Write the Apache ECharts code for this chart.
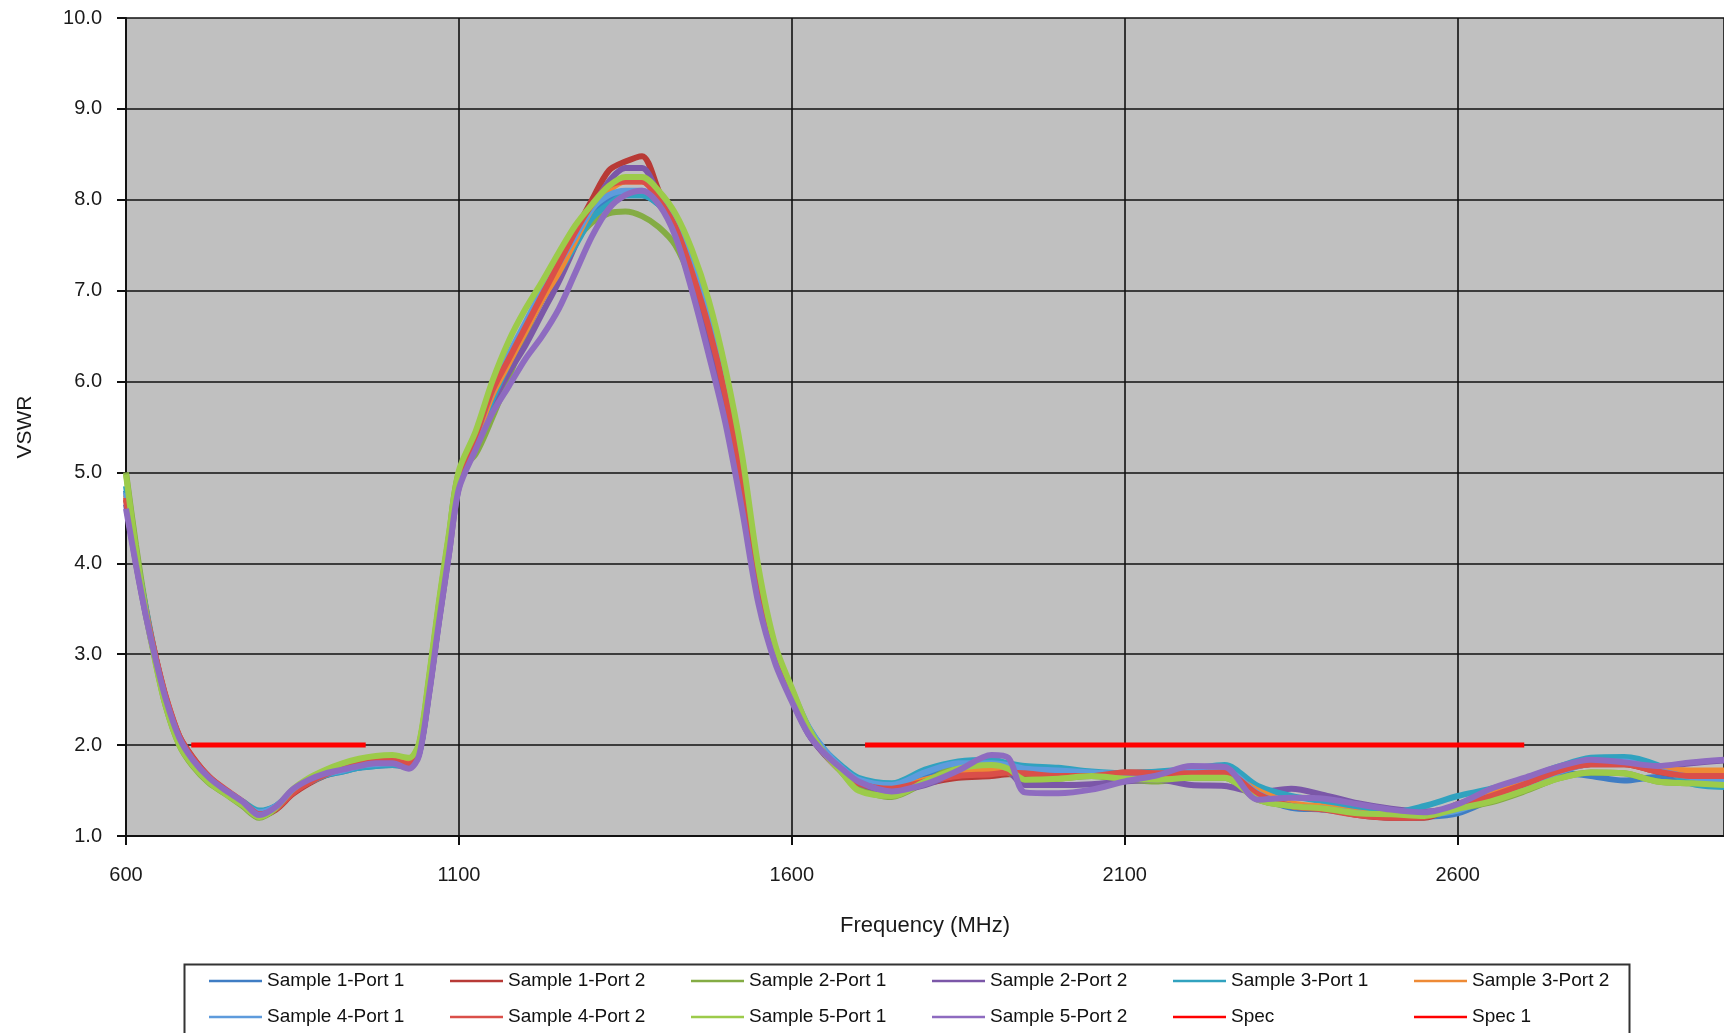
<!DOCTYPE html>
<html>
<head>
<meta charset="utf-8">
<script src="https://cdn.jsdelivr.net/npm/echarts@6/dist/echarts.min.js"></script>
<style>
html,body{margin:0;padding:0;background:#fff;}
#chart{width:1724px;height:1033px;}
</style>
</head>
<body>
<div id="chart"></div>
<script>
// Frequencies (MHz)
const freq = [600, 615, 630, 645, 660, 680, 700, 725, 750, 775, 800, 825, 850, 875, 900, 925, 950, 975, 1000, 1025,
  1040, 1055, 1070, 1085, 1100, 1125, 1150, 1175, 1200, 1225, 1250, 1275, 1300, 1325, 1350, 1375, 1400, 1425, 1450, 1475,
  1500, 1525, 1550, 1575, 1600, 1625, 1650, 1675, 1700, 1750, 1800, 1850, 1900, 1925, 1950, 2000, 2050, 2100, 2150, 2200,
  2250, 2300, 2350, 2400, 2450, 2500, 2550, 2600, 2650, 2700, 2750, 2800, 2850, 2900, 2950, 3000];

const sample1Port1 = [4.8, 4.1, 3.5, 2.95, 2.5, 2.05, 1.8, 1.6, 1.47, 1.36, 1.27, 1.33, 1.49, 1.6, 1.67, 1.71, 1.75, 1.77, 1.78, 1.76, 1.9, 2.58, 3.38, 4.15, 4.88,
  5.35, 5.85, 6.25, 6.6, 6.95, 7.25, 7.55, 7.85, 8.0, 8.05, 8.05, 7.95, 7.75, 7.35, 6.75, 6.0, 5.05,
  3.85, 3.05, 2.58, 2.17, 1.92, 1.74, 1.6,
  1.55, 1.68, 1.78, 1.8, 1.78, 1.74, 1.72, 1.68, 1.68, 1.7, 1.7, 1.7, 1.45, 1.31, 1.29, 1.24, 1.2, 1.21, 1.25, 1.4, 1.55, 1.7, 1.66, 1.61, 1.65, 1.63, 1.58];
const sample1Port2 = [4.7, 4.02, 3.45, 2.95, 2.52, 2.1, 1.87, 1.65, 1.5, 1.37, 1.22, 1.29, 1.46, 1.58, 1.67, 1.73, 1.79, 1.83, 1.84, 1.79, 1.93, 2.6, 3.4, 4.15, 4.9,
  5.35, 5.85, 6.2, 6.55, 6.9, 7.25, 7.65, 8.0, 8.32, 8.42, 8.48, 8.1, 7.7, 7.2, 6.55, 5.8, 4.85,
  3.7, 2.97, 2.53, 2.13, 1.89, 1.71, 1.57,
  1.52, 1.58, 1.64, 1.66, 1.68, 1.68, 1.66, 1.66, 1.7, 1.7, 1.69, 1.69, 1.47, 1.33, 1.3, 1.23, 1.2, 1.2, 1.35, 1.44, 1.57, 1.71, 1.79, 1.79, 1.71, 1.66, 1.66];
const sample2Port1 = [5.0, 4.2, 3.5, 2.9, 2.42, 2.0, 1.77, 1.58, 1.46, 1.33, 1.2, 1.3, 1.5, 1.63, 1.72, 1.79, 1.84, 1.87, 1.88, 1.85, 2.0, 2.72, 3.55, 4.3, 5.0,
  5.2, 5.6, 6.05, 6.5, 6.95, 7.3, 7.55, 7.75, 7.85, 7.87, 7.82, 7.7, 7.5, 7.1, 6.55, 5.85, 4.95,
  3.82, 3.04, 2.58, 2.17, 1.9, 1.7, 1.52,
  1.43, 1.59, 1.76, 1.76, 1.7, 1.6, 1.63, 1.66, 1.62, 1.6, 1.64, 1.64, 1.4, 1.33, 1.3, 1.25, 1.24, 1.22, 1.3, 1.37, 1.49, 1.63, 1.7, 1.69, 1.6, 1.58, 1.56];
const sample2Port2 = [4.65, 4.0, 3.42, 2.92, 2.5, 2.08, 1.84, 1.63, 1.49, 1.37, 1.23, 1.32, 1.5, 1.61, 1.68, 1.73, 1.77, 1.8, 1.81, 1.76, 1.9, 2.56, 3.36, 4.1, 4.84,
  5.3, 5.75, 6.1, 6.4, 6.75, 7.1, 7.5, 7.9, 8.2, 8.35, 8.35, 8.05, 7.7, 7.15, 6.45, 5.65, 4.7,
  3.6, 2.93, 2.5, 2.12, 1.89, 1.72, 1.58,
  1.5, 1.56, 1.7, 1.82, 1.72, 1.56, 1.56, 1.57, 1.6, 1.62, 1.56, 1.55, 1.48, 1.52, 1.45, 1.36, 1.3, 1.27, 1.33, 1.5, 1.62, 1.74, 1.82, 1.8, 1.76, 1.8, 1.83];
const sample3Port1 = [4.85, 4.1, 3.48, 2.94, 2.5, 2.06, 1.83, 1.62, 1.49, 1.38, 1.28, 1.33, 1.49, 1.59, 1.67, 1.71, 1.75, 1.77, 1.78, 1.77, 1.91, 2.6, 3.4, 4.16, 4.9,
  5.35, 5.8, 6.2, 6.55, 6.9, 7.2, 7.5, 7.8, 7.95, 8.05, 8.05, 7.95, 7.75, 7.3, 6.7, 5.95, 5.0,
  3.83, 3.05, 2.6, 2.2, 1.94, 1.77, 1.64,
  1.58, 1.73, 1.82, 1.84, 1.8, 1.77, 1.75, 1.71, 1.69, 1.71, 1.74, 1.78, 1.55, 1.44, 1.38, 1.3, 1.26, 1.33, 1.44, 1.52, 1.63, 1.76, 1.86, 1.87, 1.78, 1.58, 1.54];
const sample3Port2 = [4.75, 4.05, 3.46, 2.94, 2.5, 2.07, 1.85, 1.64, 1.5, 1.37, 1.25, 1.31, 1.48, 1.6, 1.69, 1.75, 1.8, 1.83, 1.84, 1.8, 1.93, 2.6, 3.4, 4.15, 4.88,
  5.35, 5.85, 6.2, 6.55, 6.9, 7.2, 7.55, 7.9, 8.1, 8.2, 8.2, 8.05, 7.75, 7.3, 6.65, 5.9, 4.95,
  3.78, 3.01, 2.56, 2.16, 1.91, 1.73, 1.6,
  1.53, 1.62, 1.7, 1.72, 1.72, 1.7, 1.67, 1.67, 1.68, 1.68, 1.69, 1.68, 1.5, 1.36, 1.32, 1.26, 1.22, 1.22, 1.33, 1.46, 1.58, 1.72, 1.82, 1.8, 1.74, 1.72, 1.72];
const sample4Port1 = [4.78, 4.08, 3.47, 2.93, 2.49, 2.05, 1.81, 1.61, 1.47, 1.36, 1.26, 1.33, 1.49, 1.6, 1.68, 1.72, 1.77, 1.79, 1.8, 1.78, 1.92, 2.6, 3.4, 4.16, 4.9,
  5.4, 5.9, 6.3, 6.65, 7.0, 7.3, 7.6, 7.9, 8.05, 8.1, 8.1, 8.0, 7.8, 7.4, 6.8, 6.05, 5.1,
  3.88, 3.07, 2.61, 2.2, 1.94, 1.75, 1.62,
  1.56, 1.7, 1.8, 1.8, 1.78, 1.74, 1.72, 1.7, 1.68, 1.69, 1.71, 1.72, 1.47, 1.33, 1.3, 1.25, 1.21, 1.23, 1.28, 1.42, 1.56, 1.7, 1.8, 1.82, 1.72, 1.65, 1.6];
const sample4Port2 = [4.72, 4.04, 3.46, 2.96, 2.53, 2.1, 1.86, 1.65, 1.51, 1.38, 1.24, 1.3, 1.47, 1.59, 1.68, 1.74, 1.79, 1.82, 1.83, 1.79, 1.93, 2.62, 3.42, 4.17, 4.9,
  5.4, 5.9, 6.25, 6.6, 6.95, 7.3, 7.65, 7.95, 8.15, 8.2, 8.2, 8.0, 7.7, 7.2, 6.6, 5.85, 4.9,
  3.74, 2.99, 2.54, 2.14, 1.9, 1.71, 1.58,
  1.52, 1.6, 1.66, 1.68, 1.7, 1.69, 1.66, 1.66, 1.7, 1.69, 1.69, 1.7, 1.46, 1.33, 1.29, 1.23, 1.2, 1.21, 1.33, 1.44, 1.57, 1.71, 1.79, 1.79, 1.71, 1.66, 1.66];
const sample5Port1 = [4.98, 4.15, 3.45, 2.88, 2.42, 2.0, 1.78, 1.59, 1.46, 1.34, 1.21, 1.31, 1.51, 1.64, 1.73, 1.8, 1.85, 1.88, 1.89, 1.86, 2.02, 2.75, 3.58, 4.33, 5.02,
  5.45, 6.0, 6.45, 6.8, 7.1, 7.42, 7.72, 7.95, 8.15, 8.25, 8.25, 8.1, 7.85, 7.45, 6.9, 6.15, 5.2,
  3.95, 3.1, 2.63, 2.19, 1.9, 1.7, 1.5,
  1.44, 1.6, 1.74, 1.78, 1.74, 1.62, 1.63, 1.66, 1.63, 1.62, 1.64, 1.64, 1.4, 1.33, 1.3, 1.25, 1.24, 1.22, 1.3, 1.38, 1.5, 1.63, 1.7, 1.69, 1.6, 1.58, 1.56];
const sample5Port2 = [4.6, 3.98, 3.42, 2.93, 2.5, 2.08, 1.84, 1.64, 1.5, 1.38, 1.23, 1.32, 1.51, 1.62, 1.69, 1.73, 1.77, 1.8, 1.8, 1.74, 1.88, 2.55, 3.35, 4.1, 4.82,
  5.25, 5.65, 5.95, 6.25, 6.5, 6.8, 7.2, 7.6, 7.9, 8.05, 8.1, 7.95, 7.6, 7.0, 6.3, 5.55, 4.6,
  3.55, 2.9, 2.48, 2.12, 1.9, 1.74, 1.6,
  1.49, 1.57, 1.72, 1.89, 1.86, 1.48, 1.47, 1.51, 1.6, 1.67, 1.77, 1.76, 1.4, 1.42, 1.41, 1.35, 1.29, 1.26, 1.35, 1.52, 1.64, 1.76, 1.84, 1.81, 1.77, 1.81, 1.84];

const specFreq = [698, 960];
const specValue = [2.0, 2.0];
const spec1Freq = [1710, 2700];
const spec1Value = [2.0, 2.0];

const seriesNames = ['Sample 1-Port 1', 'Sample 1-Port 2', 'Sample 2-Port 1', 'Sample 2-Port 2', 'Sample 3-Port 1',
  'Sample 3-Port 2', 'Sample 4-Port 1', 'Sample 4-Port 2', 'Sample 5-Port 1', 'Sample 5-Port 2', 'Spec', 'Spec 1'];
const seriesValues = [sample1Port1, sample1Port2, sample2Port1, sample2Port2, sample3Port1,
  sample3Port2, sample4Port1, sample4Port2, sample5Port1, sample5Port2];
const colors = ['#3F7DC4', '#B83A36', '#84AC44', '#7B57A8', '#31A2BF',
  '#EE8A35', '#5E9BDC', '#DA4F49', '#9CCB4A', '#8E6BC0', '#FF0000', '#FF0000'];

const FONT = "'Liberation Sans', Arial, sans-serif";

const series = seriesValues.map((vals, k) => ({
  name: seriesNames[k],
  type: 'line',
  data: freq.map((f, i) => [f, vals[i]]),
  symbol: 'none',
  smooth: 0.3,
  lineStyle: { width: 6, color: colors[k] },
  itemStyle: { color: colors[k] },
  z: 2 + k
}));
series.push({
  name: 'Spec', type: 'line', symbol: 'none',
  data: specFreq.map((f, i) => [f, specValue[i]]),
  lineStyle: { width: 5, color: colors[10] }, itemStyle: { color: colors[10] }, z: 20
});
series.push({
  name: 'Spec 1', type: 'line', symbol: 'none',
  data: spec1Freq.map((f, i) => [f, spec1Value[i]]),
  lineStyle: { width: 5, color: colors[11] }, itemStyle: { color: colors[11] }, z: 20
});

const chart = echarts.init(document.getElementById('chart'), null, { renderer: 'canvas' });
chart.setOption({
  animation: false,
  backgroundColor: '#ffffff',
  color: colors,
  grid: {
    left: 126, right: 0, top: 18, bottom: 197,
    show: true, backgroundColor: '#c0c0c0', borderWidth: 0
  },
  xAxis: {
    type: 'value', min: 600, max: 3000, interval: 500,
    name: 'Frequency (MHz)', nameLocation: 'middle', nameGap: 79,
    nameTextStyle: { fontFamily: FONT, fontSize: 22, color: '#1a1a1a' },
    axisLine: { show: true, lineStyle: { color: '#111', width: 2 } },
    axisTick: { show: true, inside: false, length: 9, lineStyle: { color: '#111', width: 2 } },
    axisLabel: {
      fontFamily: FONT, fontSize: 20, color: '#1a1a1a', margin: 29,
      showMaxLabel: false,
      formatter: v => (v === 3000 ? '' : String(v))
    },
    splitLine: { show: true, lineStyle: { color: '#111', width: 1.6 } }
  },
  yAxis: {
    type: 'value', min: 1, max: 10, interval: 1,
    name: 'VSWR', nameLocation: 'middle', nameGap: 90,
    nameTextStyle: { fontFamily: FONT, fontSize: 21, color: '#1a1a1a' },
    axisLine: { show: true, lineStyle: { color: '#111', width: 2 } },
    axisTick: { show: true, inside: false, length: 9, lineStyle: { color: '#111', width: 2 } },
    axisLabel: {
      fontFamily: FONT, fontSize: 20, color: '#1a1a1a', margin: 24,
      formatter: v => v.toFixed(1)
    },
    splitLine: { show: true, lineStyle: { color: '#111', width: 1.6 } }
  },
  legend: {
    data: seriesNames,
    left: 209, top: 969, width: 1460,
    padding: 0,
    icon: 'rect',
    itemWidth: 53, itemHeight: 2.5, itemGap: 12,
    textStyle: { fontFamily: FONT, fontSize: 19, color: '#111', width: 171, lineHeight: 24 }
  },
  graphic: [{
    type: 'rect', left: 182, top: 962, z: 100, silent: true,
    shape: { width: 1445, height: 110 },
    style: { fill: 'none', stroke: '#333', lineWidth: 2 }
  }],
  series: series
});
</script>
</body>
</html>
